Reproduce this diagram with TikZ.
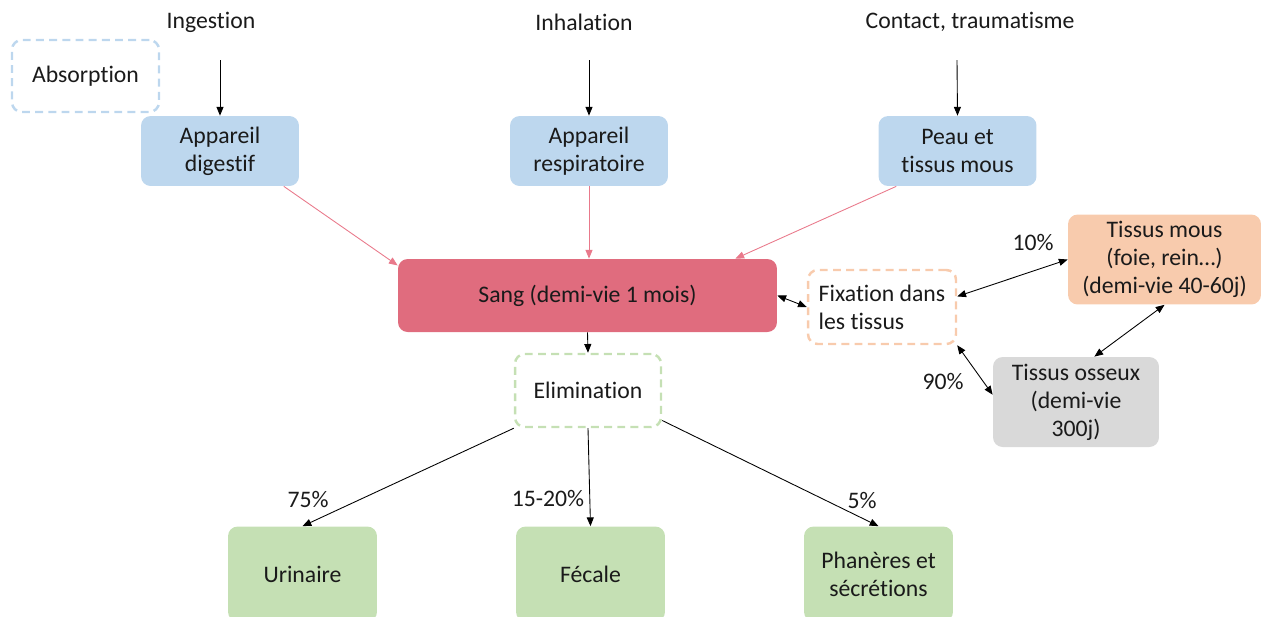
\documentclass[tikz,border=0pt]{standalone}
\usepackage{fontspec}
\setmainfont{Carlito}[Ligatures=NoCommon]
\usetikzlibrary{arrows.meta}
\definecolor{bleu}{HTML}{BDD7EE}
\definecolor{rose}{HTML}{E06C7E}
\definecolor{roseline}{HTML}{E9798B}
\definecolor{vert}{HTML}{C5E0B4}
\definecolor{orange}{HTML}{F8CBAD}
\definecolor{gris}{HTML}{D9D9D9}
\definecolor{texte}{HTML}{1A1A1A}

\begin{document}
\begin{tikzpicture}[x=0.02cm, y=-0.02cm,
    font=\fontsize{13.5pt}{16pt}\selectfont, text=texte,
    boite/.style={rounded corners=5.5pt, align=center, inner sep=2pt},
    pointille/.style={boite, draw, line width=1.4pt, dash pattern=on 4.5pt off 3pt},
    fl/.style={-{Triangle[length=5pt,width=4pt]}, line width=0.5pt},
    flrose/.style={fl, draw=roseline},
    fld/.style={{Triangle[length=5pt,width=4pt]}-{Triangle[length=5pt,width=4pt]}, line width=0.5pt}]
\useasboundingbox (0,0) rectangle (1261,616);
\node (ing) at (211, 22){Ingestion};
\node (inh) at (584, 22){Inhalation};
\node (cont) at (970, 22){Contact, traumatisme};
\coordinate (ing0) at (220, 60);
\coordinate (inh0) at (589, 60);
\coordinate (cont0) at (957, 60);
\node[pointille, draw=bleu, minimum width=2.94cm, minimum height=1.44cm] (abs) at (85.5, 76){Absorption};
\node[boite, fill=bleu, minimum width=3.16cm, minimum height=1.40cm] (dig) at (220, 151){Appareil\\digestif};
\node[boite, fill=bleu, minimum width=3.16cm, minimum height=1.40cm] (resp) at (589, 151){Appareil\\respiratoire};
\node[boite, fill=bleu, minimum width=3.16cm, minimum height=1.40cm] (peau) at (957.5, 151){Peau et\\tissus mous};
\node[boite, fill=rose, minimum width=7.58cm, minimum height=1.46cm] (sang) at (587.5, 295.5){Sang (demi-vie 1 mois)};
\node[pointille, draw=orange, minimum width=2.96cm, minimum height=1.48cm, align=left] (fix) at (882, 307){Fixation dans\\les tissus};
\node[boite, fill=orange, minimum width=3.86cm, minimum height=1.80cm] (mous) at (1164.5, 259.5){Tissus mous\\(foie, rein…)\\(demi-vie 40-60j)};
\node[boite, fill=gris, minimum width=3.32cm, minimum height=1.80cm] (os) at (1076, 402){Tissus osseux\\(demi-vie\\300j)};
\node[pointille, draw=vert, minimum width=2.92cm, minimum height=1.46cm] (elim) at (588, 390.5){Elimination};
\node[boite, fill=vert, minimum width=2.98cm, minimum height=1.90cm] (uri) at (302.5, 574){Urinaire};
\node[boite, fill=vert, minimum width=2.98cm, minimum height=1.90cm] (fec) at (590.5, 574){Fécale};
\node[boite, fill=vert, minimum width=2.98cm, minimum height=1.90cm] (phan) at (878.5, 574){Phanères et\\sécrétions};
\node (p10) at (1033, 243){10\%};
\node (p90) at (943, 382){90\%};
\node (p75) at (308, 499){75\%};
\node (p15) at (548, 498){15-20\%};
\node (p5) at (862, 500){5\%};
\draw[fl] (ing0) -- (dig.north);
\draw[fl] (inh0) -- (resp.north);
\draw[fl] (cont0) -- (peau.north);
\draw[flrose] (dig.-29) -- (sang.171);
\draw[flrose] (resp.south) -- (resp.south |- sang.north);
\draw[flrose] (peau.210.9) -- (sang.14.3);
\draw[fl] (sang.south) -- (elim.north);
\draw[fld] (sang.east) -- (fix.west);
\draw[fld] (fix.8) -- (mous.west);
\draw[fld] (fix.south east) -- (os.175);
\draw[fld] (mous.south) -- (os.68);
\draw[fl] (elim.south west) -- (uri.north);
\draw[fl] (elim.south) -- (fec.north);
\draw[fl] (elim.-22) -- (phan.north);
\end{tikzpicture}
\end{document}
